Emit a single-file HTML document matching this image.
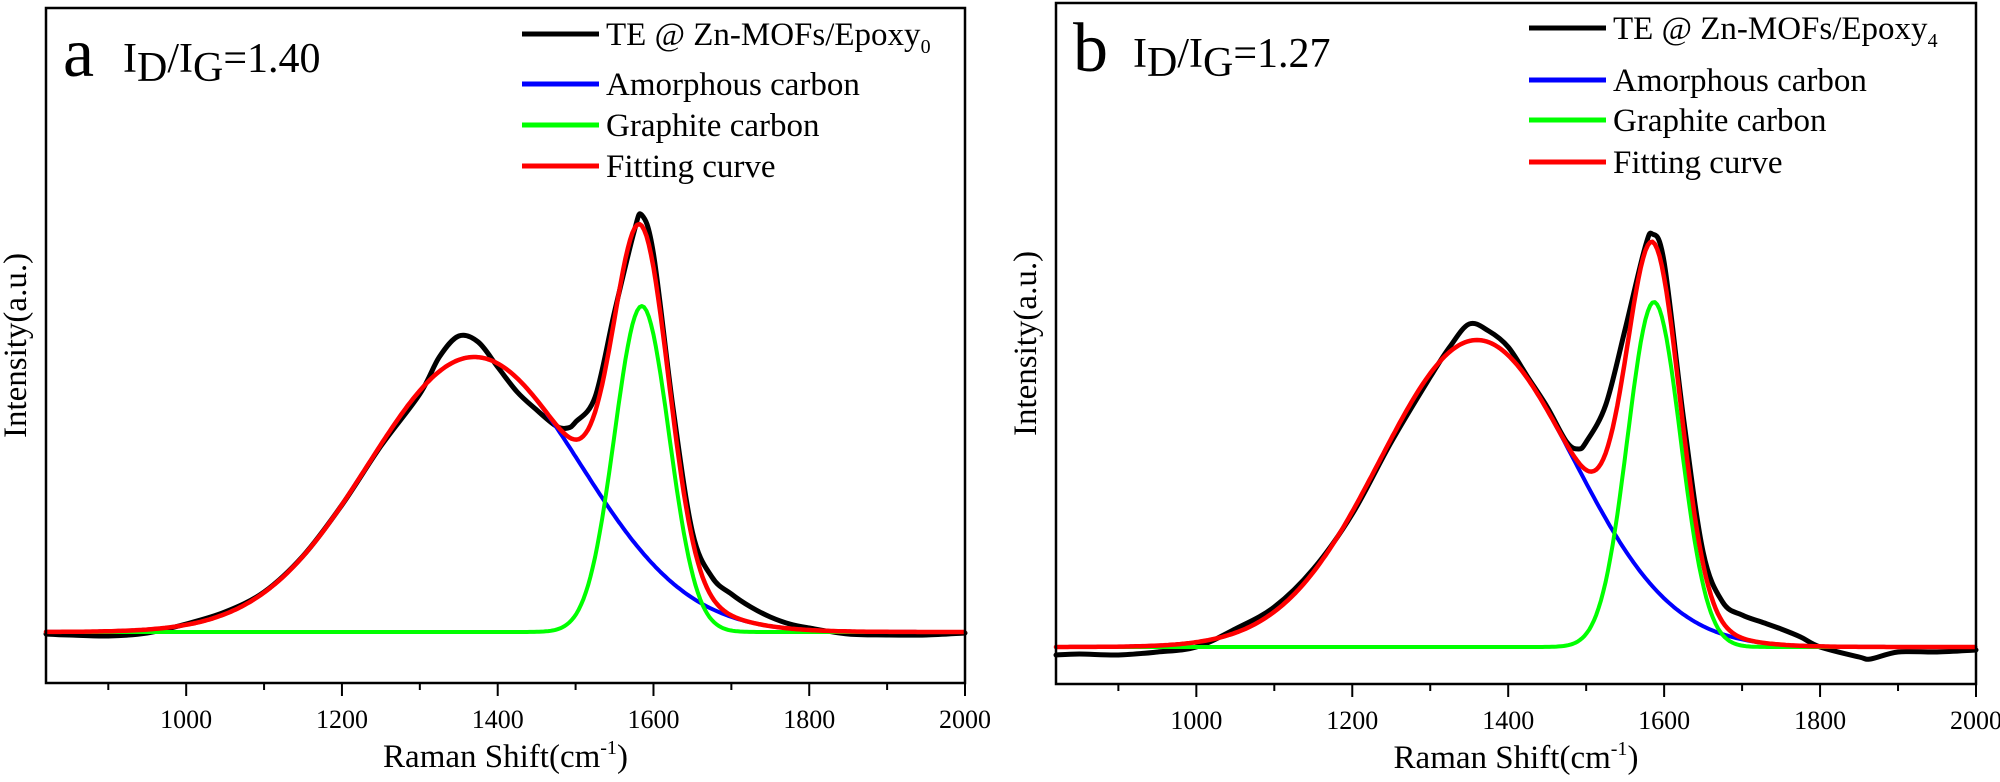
<!DOCTYPE html>
<html><head><meta charset="utf-8">
<style>
body{margin:0;background:#fff;}
svg text{font-family:"Liberation Serif","Times New Roman",serif;fill:#000;}
</style></head>
<body>
<svg id="chart" width="2000" height="777" viewBox="0 0 2000 777" font-family="Liberation Serif, serif" xmlns="http://www.w3.org/2000/svg"></svg>
<script>
// Panel a data
const xA = [820,850,900,950,1000,1050,1100,1150,1200,1250,1300,1325,1350,1375,1400,1425,1450,1475,1490,1500,1525,1550,1575,1585,1600,1625,1650,1675,1700,1725,1750,1775,1800,1850,1900,1950,2000];
const yA = [-2,-3,-4,-1,8,20,40,76,127,186,238,275,296,290,265,240,222,206,204,210,235,320,400,417,378,225,100,55,38,25,15,8,4,-2,-3,-3,-1];
const peakCentersA = [1370,1585];
const peakHeightsA = [275,326];
const peakSigmasA = [137,35];
// Panel b data
const xB = [820,850,900,950,1000,1050,1100,1150,1200,1250,1300,1325,1350,1375,1400,1425,1450,1475,1490,1500,1525,1550,1575,1585,1600,1625,1650,1675,1700,1725,1750,1775,1800,1850,1865,1900,1950,2000];
const yB = [-8,-7,-8,-5,0,18,40,78,133,205,270,300,323,316,300,270,240,205,198,205,242,318,398,413,385,228,95,45,32,25,18,10,0,-10,-12,-5,-5,-3];
const peakCentersB = [1360,1587];
const peakHeightsB = [307,345];
const peakSigmasB = [125,34];
const xTicks = [1000,1200,1400,1600,1800,2000];
const xMinor = [900,1100,1300,1500,1700,1900];

const NS="http://www.w3.org/2000/svg";
const svg=document.getElementById('chart');
function mk(tag,attrs,parent){const e=document.createElementNS(NS,tag);for(const k in attrs)e.setAttribute(k,attrs[k]);(parent||svg).appendChild(e);return e;}
const FF='Liberation Serif, serif';

function panel(o){
  const g=mk('g',{'font-family':FF});
  
  
  const xs=v=>o.L+(v-820)/(2000-820)*(o.R-o.L);
  const ys=v=>o.base-v;
  function path(pts,color,name,w,smooth){
    let d;
    const P=pts.map(q=>[xs(q[0]),ys(q[1])]);
    if(smooth){
      d='M'+P[0][0].toFixed(1)+','+P[0][1].toFixed(1);
      for(let i=0;i<P.length-1;i++){
        const p0=P[Math.max(0,i-1)],p1=P[i],p2=P[i+1],p3=P[Math.min(P.length-1,i+2)];
        const c1=[p1[0]+(p2[0]-p0[0])/6,p1[1]+(p2[1]-p0[1])/6];
        const c2=[p2[0]-(p3[0]-p1[0])/6,p2[1]-(p3[1]-p1[1])/6];
        d+='C'+c1.map(v=>v.toFixed(1)).join(',')+' '+c2.map(v=>v.toFixed(1)).join(',')+' '+p2[0].toFixed(1)+','+p2[1].toFixed(1);
      }
    } else d='M'+P.map(q=>q[0].toFixed(1)+','+q[1].toFixed(1)).join('L');
    const p=mk('path',{d:d,fill:'none',stroke:color,'stroke-width':w,'stroke-linejoin':'round','stroke-linecap':'round'},g);
    
    
  }
  const gauss=(x,i)=>o.h[i]*Math.exp(-Math.pow(x-o.c[i],2)/(2*o.s[i]*o.s[i]));
  const grid=[];for(let x=820;x<=2000;x+=3)grid.push(x);
  path(o.x.map((v,i)=>[v,o.y[i]]),'#000','experimental-spectrum',5,true);
  path(grid.map(x=>[x,gauss(x,0)]),'#0000ff','amorphous-carbon-curve',4);
  path(grid.map(x=>[x,gauss(x,1)]),'#00ff00','graphite-carbon-curve',4);
  path(grid.map(x=>[x,gauss(x,0)+gauss(x,1)]),'#ff0000','fitting-curve',4.5);
  const f=mk('rect',{x:o.L,y:o.T,width:o.R-o.L,height:o.B-o.T,fill:'none',stroke:'#000','stroke-width':2.5},g);
  
  
  xTicks.forEach(t=>{
    const l=mk('line',{x1:xs(t),x2:xs(t),y1:o.B,y2:o.B+13,stroke:'#000','stroke-width':2},g);
    
    
    const tx=mk('text',{x:xs(t),y:o.B+45,'font-size':26,'text-anchor':'middle'},g);
    tx.textContent=t;
    
    
  });
  xMinor.forEach(t=>{
    const l=mk('line',{x1:xs(t),x2:xs(t),y1:o.B,y2:o.B+7,stroke:'#000','stroke-width':2},g);
    
    
  });
  const xt=mk('text',{x:(o.L+o.R)/2,y:o.B+84,'font-size':33,'text-anchor':'middle'},g);
  xt.innerHTML='Raman Shift(cm<tspan dy="-13" font-size="20">-1</tspan><tspan dy="13">)</tspan>';
  
  
  const yt=mk('text',{x:0,y:0,'font-size':33,'text-anchor':'middle',transform:'translate('+(o.L-20)+','+((o.T+o.B)/2)+') rotate(-90)'},g);
  yt.textContent='Intensity(a.u.)';
  
  
  const lab=mk('text',{x:o.L+17,y:o.T+68,'font-size':70},g);
  lab.textContent=o.id;
  
  
  const r=mk('text',{x:o.L+77,y:o.T+64,'font-size':42},g);
  r.innerHTML='I<tspan dy="9">D</tspan><tspan dy="-9">/I</tspan><tspan dy="9">G</tspan><tspan dy="-9">='+o.ratio+'</tspan>';
  
  
  const leg=[['#000','TE @ Zn-MOFs/Epoxy',o.sub],['#0000ff','Amorphous carbon'],['#00ff00','Graphite carbon'],['#ff0000','Fitting curve']];
  leg.forEach((e,i)=>{
    const y=o.legY[i];
    const l=mk('line',{x1:o.legX,x2:o.legX+77,y1:y,y2:y,stroke:e[0],'stroke-width':5},g);
    
    
    const t=mk('text',{x:o.legX+84,y:y+11,'font-size':33},g);
    t.innerHTML=e[1]+(e[2]!==undefined?'<tspan dy="8" font-size="20">'+e[2]+'</tspan>':'');
    
    
  });
}
panel({id:'a',L:46,R:965,T:8,B:683,base:632,x:xA,y:yA,c:peakCentersA,h:peakHeightsA,s:peakSigmasA,ratio:'1.40',sub:'0',legX:522,legY:[34,84,125,166]});
panel({id:'b',L:1056,R:1976,T:3,B:684,base:647,x:xB,y:yB,c:peakCentersB,h:peakHeightsB,s:peakSigmasB,ratio:'1.27',sub:'4',legX:1529,legY:[28,80,120,162]});
</script>
</body></html>
